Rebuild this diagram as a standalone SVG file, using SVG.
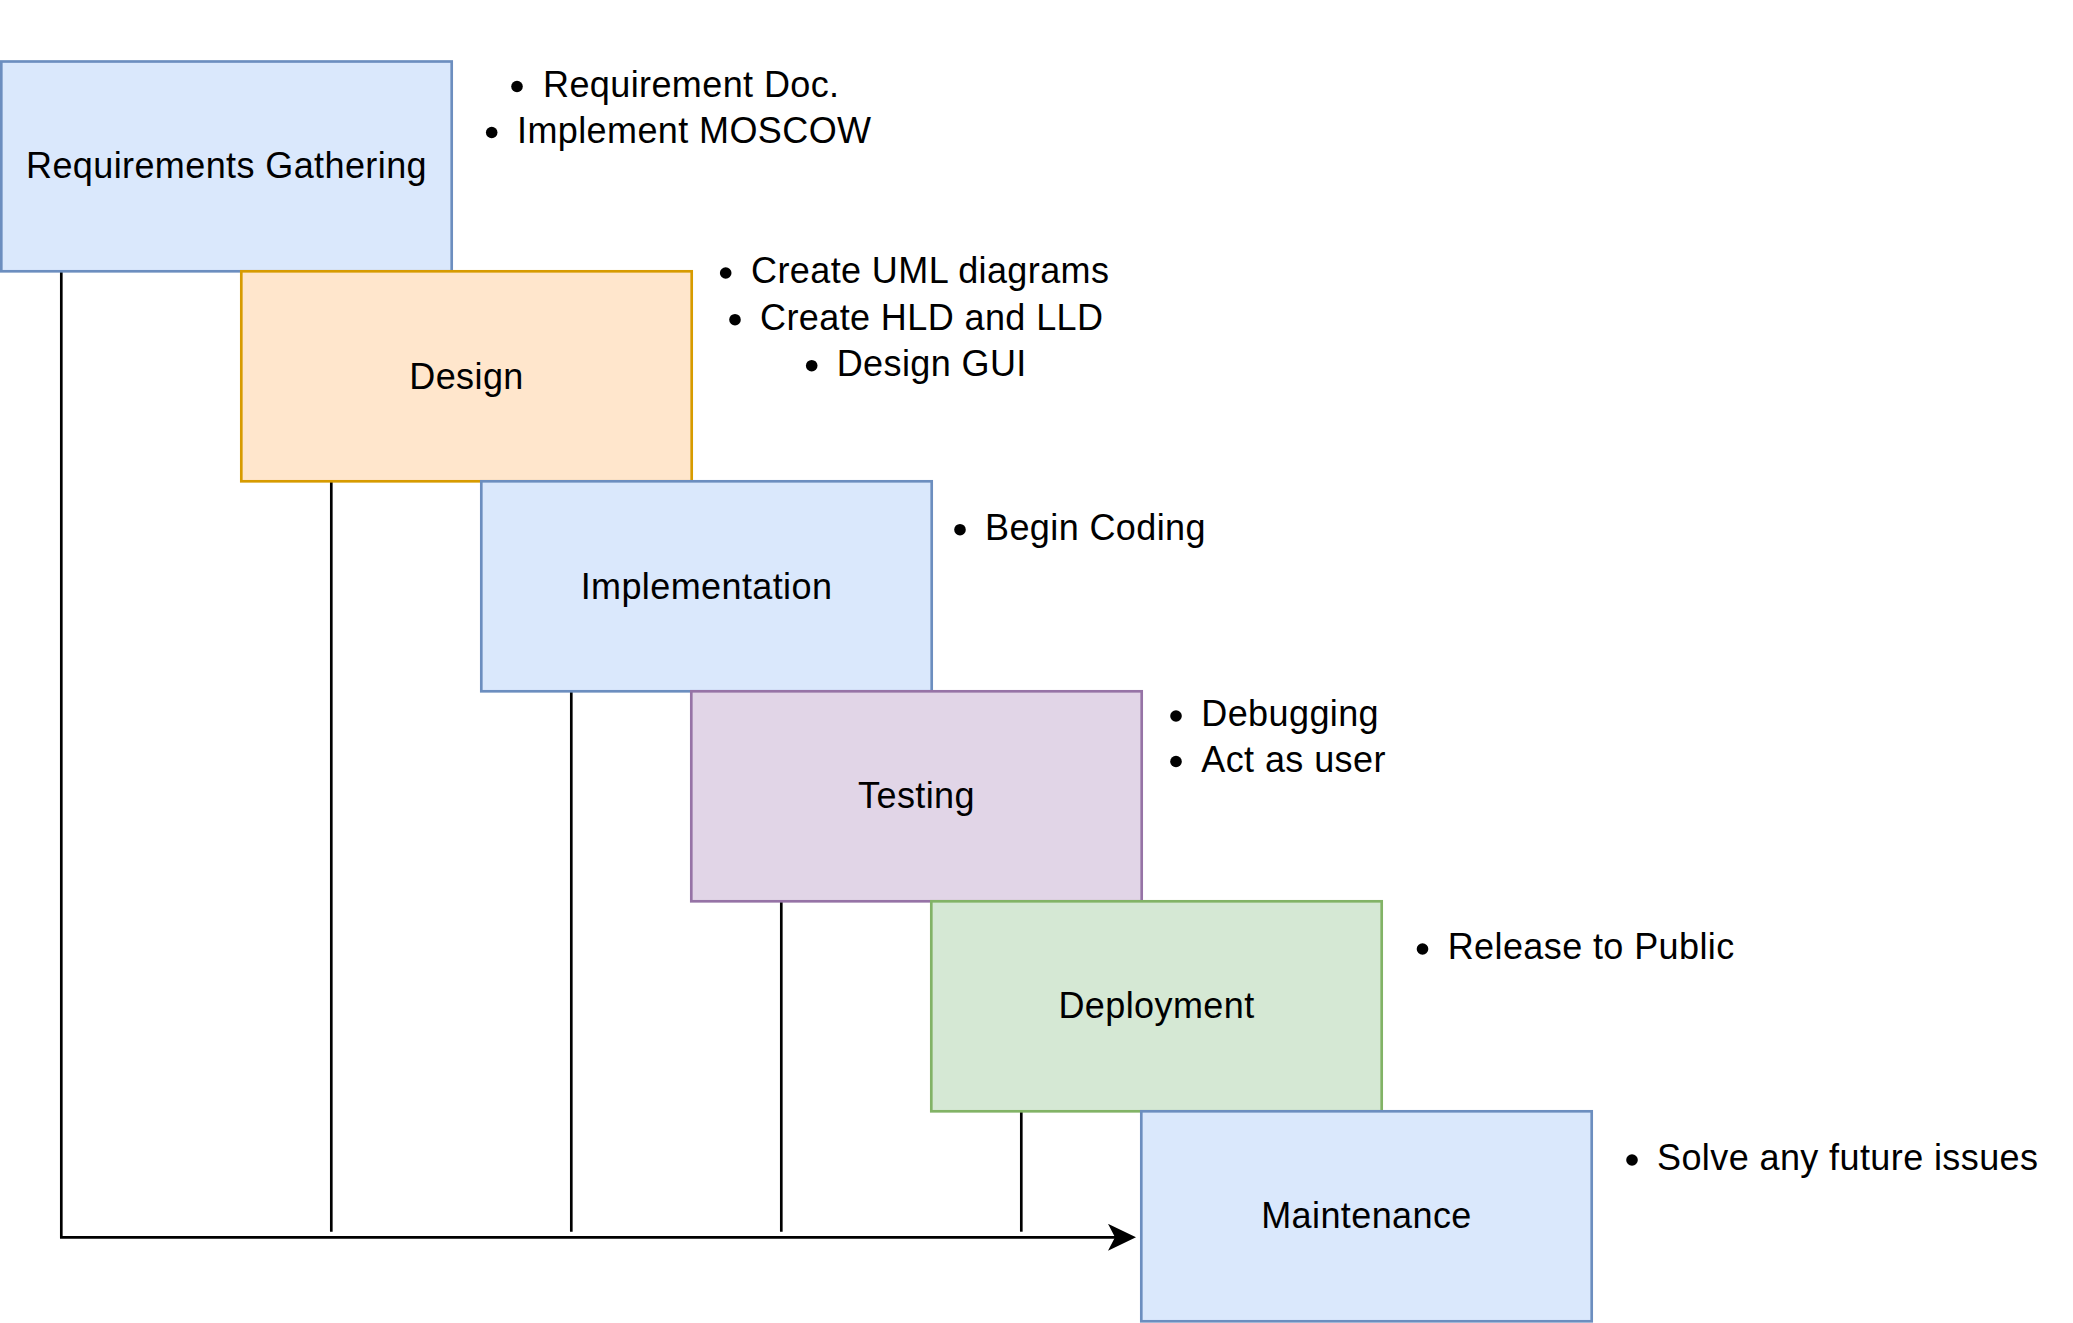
<svg xmlns="http://www.w3.org/2000/svg" width="2073" height="1323" viewBox="0 0 2073 1323">
  <style>
    .box { stroke-width: 2.67; }
    .blue { fill: #dae8fc; stroke: #6c8ebf; }
    .orange { fill: #ffe6cc; stroke: #d79b00; }
    .purple { fill: #e1d5e7; stroke: #9673a6; }
    .green { fill: #d5e8d4; stroke: #82b366; }
    .label { font-family: "Liberation Sans", Arial, Helvetica, sans-serif; font-size: 36px; fill: #000000; text-anchor: middle; letter-spacing: 0.4px; }
    .item { font-family: "Liberation Sans", Arial, Helvetica, sans-serif; font-size: 36px; fill: #000000; letter-spacing: 0.4px; }
    .dot { fill: #000000; }
    .conn { fill: none; stroke: #000000; stroke-width: 2.67; }
  </style>
  <defs>
    <marker id="arrow" markerUnits="userSpaceOnUse" viewBox="0 0 28 27" refX="12" refY="13.5" markerWidth="28" markerHeight="27" orient="auto">
      <path d="M0,0 L28,13.5 L0,27 L7,13.5 Z" fill="#000000"/>
    </marker>
  </defs>
  <rect width="2073" height="1323" fill="#ffffff"/>

  <g id="connectors">
    <path class="conn" d="M61.3,271 V1237.3 H1120" marker-end="url(#arrow)"/>
    <path class="conn" d="M331.3,481.3 V1231.7"/>
    <path class="conn" d="M571.3,691.3 V1231.7"/>
    <path class="conn" d="M781.3,901.3 V1231.7"/>
    <path class="conn" d="M1021.3,1111.3 V1231.7"/>
  </g>

  <g id="requirements">
    <rect class="box blue" x="1.3" y="61.5" width="450.4" height="209.8"/>
    <text class="label" x="226.5" y="178.3">Requirements Gathering</text>
  </g>
  <g id="design">
    <rect class="box orange" x="241.3" y="271.3" width="450.4" height="210"/>
    <text class="label" x="466.5" y="388.5">Design</text>
  </g>
  <g id="implementation">
    <rect class="box blue" x="481.3" y="481.3" width="450.4" height="210"/>
    <text class="label" x="706.5" y="598.5">Implementation</text>
  </g>
  <g id="testing">
    <rect class="box purple" x="691.3" y="691.3" width="450.4" height="210"/>
    <text class="label" x="916.5" y="808.3">Testing</text>
  </g>
  <g id="deployment">
    <rect class="box green" x="931.3" y="901.3" width="450.4" height="210"/>
    <text class="label" x="1156.5" y="1018.3">Deployment</text>
  </g>
  <g id="maintenance">
    <rect class="box blue" x="1141.3" y="1111.3" width="450.4" height="210"/>
    <text class="label" x="1366.5" y="1228.3">Maintenance</text>
  </g>

  <g id="notes-requirements">
    <circle class="dot" cx="517" cy="86.5" r="5.8"/>
    <text class="item" x="543" y="96.7">Requirement Doc.</text>
    <circle class="dot" cx="491.7" cy="132.5" r="5.8"/>
    <text class="item" x="517" y="142.7">Implement MOSCOW</text>
  </g>
  <g id="notes-design">
    <circle class="dot" cx="725.7" cy="273" r="5.8"/>
    <text class="item" x="751" y="283.3">Create UML diagrams</text>
    <circle class="dot" cx="735" cy="319.7" r="5.8"/>
    <text class="item" x="760" y="330">Create HLD and LLD</text>
    <circle class="dot" cx="811.7" cy="365.7" r="5.8"/>
    <text class="item" x="836.7" y="376">Design GUI</text>
  </g>
  <g id="notes-implementation">
    <circle class="dot" cx="960" cy="529.7" r="5.8"/>
    <text class="item" x="985" y="540">Begin Coding</text>
  </g>
  <g id="notes-testing">
    <circle class="dot" cx="1176" cy="716" r="5.8"/>
    <text class="item" x="1201.3" y="726.3">Debugging</text>
    <circle class="dot" cx="1176" cy="761.5" r="5.8"/>
    <text class="item" x="1201.3" y="771.8">Act as user</text>
  </g>
  <g id="notes-deployment">
    <circle class="dot" cx="1422.5" cy="949" r="5.8"/>
    <text class="item" x="1447.7" y="959.3">Release to Public</text>
  </g>
  <g id="notes-maintenance">
    <circle class="dot" cx="1632" cy="1160" r="5.8"/>
    <text class="item" x="1657" y="1170">Solve any future issues</text>
  </g>
</svg>
